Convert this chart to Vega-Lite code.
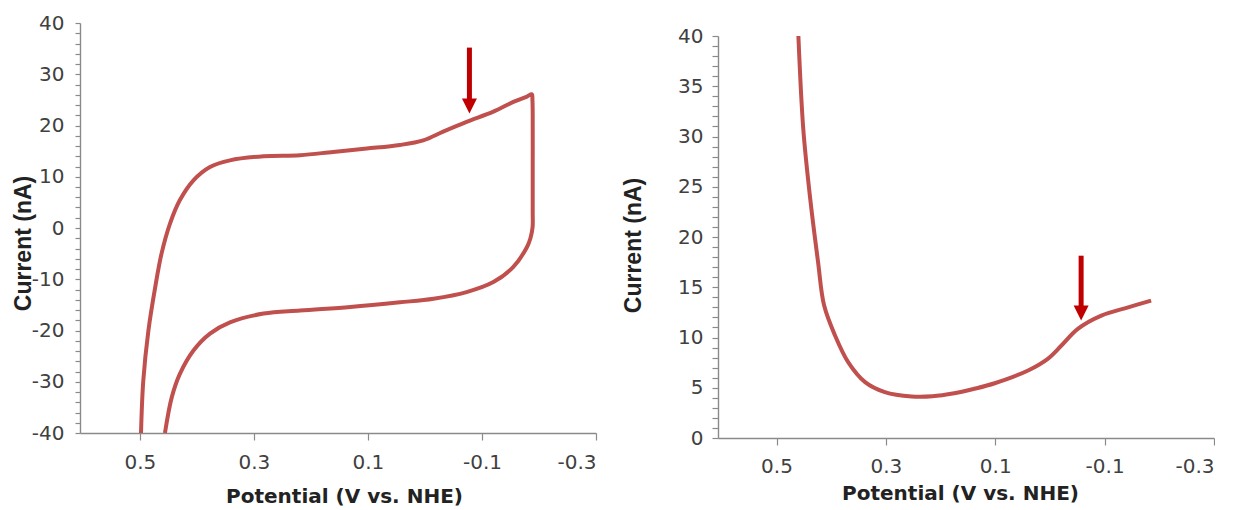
{
  "$schema": "https://vega.github.io/schema/vega-lite/v6.json",
  "padding": {"left": 12, "top": 13, "right": 0, "bottom": 0},
  "spacing": 25,
  "background": "white",
  "config": {
    "view": {"stroke": null},
    "axis": {
      "grid": false,
      "domainColor": "#8a8a8a",
      "domainWidth": 1.4,
      "tickColor": "#8a8a8a",
      "tickWidth": 1.2,
      "labelFont": "DejaVu Sans",
      "labelFontSize": 20,
      "labelColor": "#404040",
      "titleFont": "DejaVu Sans",
      "titleFontWeight": "bold",
      "titleFontSize": 20,
      "titleColor": "#222222"
    }
  },
  "datasets": {
    "cv": [
      {"i": 1, "v": 0.498, "c": -40},
      {"i": 2, "v": 0.494, "c": -29.8},
      {"i": 3, "v": 0.485, "c": -20.0},
      {"i": 4, "v": 0.473, "c": -11.5},
      {"i": 5, "v": 0.462, "c": -5.0},
      {"i": 6, "v": 0.447, "c": 0.9},
      {"i": 7, "v": 0.430, "c": 5.4},
      {"i": 8, "v": 0.406, "c": 9.3},
      {"i": 9, "v": 0.377, "c": 11.9},
      {"i": 10, "v": 0.342, "c": 13.2},
      {"i": 11, "v": 0.283, "c": 14.0},
      {"i": 12, "v": 0.219, "c": 14.2},
      {"i": 13, "v": 0.161, "c": 14.85},
      {"i": 14, "v": 0.102, "c": 15.5},
      {"i": 15, "v": 0.044, "c": 16.2},
      {"i": 16, "v": 0.003, "c": 17.1},
      {"i": 17, "v": -0.032, "c": 18.8},
      {"i": 18, "v": -0.073, "c": 20.7},
      {"i": 19, "v": -0.12, "c": 22.7},
      {"i": 20, "v": -0.155, "c": 24.6},
      {"i": 21, "v": -0.178, "c": 25.6},
      {"i": 22, "v": -0.1875, "c": 26.1},
      {"i": 23, "v": -0.1885, "c": 25.0},
      {"i": 24, "v": -0.189, "c": 22},
      {"i": 25, "v": -0.189, "c": 12},
      {"i": 26, "v": -0.189, "c": 3},
      {"i": 27, "v": -0.1888, "c": 0.2},
      {"i": 28, "v": -0.185, "c": -2.0},
      {"i": 29, "v": -0.179, "c": -3.7},
      {"i": 30, "v": -0.155, "c": -7.6},
      {"i": 31, "v": -0.12, "c": -10.55},
      {"i": 32, "v": -0.073, "c": -12.5},
      {"i": 33, "v": -0.015, "c": -13.8},
      {"i": 34, "v": 0.044, "c": -14.5},
      {"i": 35, "v": 0.131, "c": -15.4},
      {"i": 36, "v": 0.219, "c": -16.1},
      {"i": 37, "v": 0.283, "c": -16.7},
      {"i": 38, "v": 0.342, "c": -18.4},
      {"i": 39, "v": 0.377, "c": -20.6},
      {"i": 40, "v": 0.406, "c": -23.9},
      {"i": 41, "v": 0.430, "c": -28.5},
      {"i": 42, "v": 0.444, "c": -33.0},
      {"i": 43, "v": 0.456, "c": -40}
    ],
    "lsv": [
      {"i": 1, "v": 0.460, "c": 40},
      {"i": 2, "v": 0.451, "c": 30.7},
      {"i": 3, "v": 0.439, "c": 24.1},
      {"i": 4, "v": 0.424, "c": 17.5},
      {"i": 5, "v": 0.413, "c": 13.2},
      {"i": 6, "v": 0.393, "c": 10.2},
      {"i": 7, "v": 0.369, "c": 7.55},
      {"i": 8, "v": 0.338, "c": 5.56},
      {"i": 9, "v": 0.302, "c": 4.57},
      {"i": 10, "v": 0.253, "c": 4.13},
      {"i": 11, "v": 0.215, "c": 4.15},
      {"i": 12, "v": 0.175, "c": 4.45},
      {"i": 13, "v": 0.138, "c": 4.9},
      {"i": 14, "v": 0.101, "c": 5.45},
      {"i": 15, "v": 0.040, "c": 6.72},
      {"i": 16, "v": 0.004, "c": 7.88},
      {"i": 17, "v": -0.021, "c": 9.2},
      {"i": 18, "v": -0.051, "c": 10.86},
      {"i": 19, "v": -0.094, "c": 12.18},
      {"i": 20, "v": -0.143, "c": 13.0},
      {"i": 21, "v": -0.185, "c": 13.67}
    ],
    "shaftL": [{"v": -0.078, "c": 35.2, "c2": 24.6}],
    "headL": [{"v": -0.078, "c": 23.8}],
    "shaftR": [{"v": -0.057, "c": 18.14, "c2": 12.9}],
    "headR": [{"v": -0.057, "c": 12.43}]
  },
  "hconcat": [
    {
      "width": 516,
      "height": 410,
      "encoding": {
        "x": {
          "field": "v", "type": "quantitative",
          "scale": {"domain": [-0.3, 0.605], "reverse": true, "nice": false, "zero": false},
          "axis": {
            "title": "Potential (V vs. NHE)",
            "values": [0.5, 0.3, 0.1, -0.1, -0.3],
            "labelExpr": "(datum.value < 0 ? '-' : '') + format(abs(datum.value), '.1f')",
            "labelOverlap": false,
            "tickSize": 7, "labelPadding": 12,
            "titleX": 264, "titleY": 69, "titleBaseline": "alphabetic"
          }
        },
        "y": {
          "field": "c", "type": "quantitative",
          "scale": {"domain": [-40, 40], "nice": false},
          "axis": {
            "title": "Current (nA)",
            "titleFont": "Liberation Sans",
            "titleFontSize": 23,
            "values": [-40,-38,-36,-34,-32,-30,-28,-26,-24,-22,-20,-18,-16,-14,-12,-10,-8,-6,-4,-2,0,2,4,6,8,10,12,14,16,18,20,22,24,26,28,30,32,34,36,38,40],
            "labelExpr": "datum.value % 10 === 0 ? ((datum.value < 0 ? '-' : '') + abs(datum.value)) : ''",
            "labelOverlap": false,
            "labelFlush": false,
            "tickSize": 5, "labelPadding": 11,
            "titleX": -57, "titleY": 220, "titleBaseline": "middle", "titleAngle": -90
          }
        }
      },
      "layer": [
        {
          "data": {"name": "cv"},
          "mark": {"type": "line", "color": "#C0504D", "strokeWidth": 4, "interpolate": "catmull-rom"},
          "encoding": {
            "order": {"field": "i", "type": "quantitative"}
          }
        },
        {
          "data": {"name": "shaftL"},
          "mark": {"type": "rule", "color": "#C00000", "strokeWidth": 5},
          "encoding": {
            "y2": {"field": "c2"}
          }
        },
        {
          "data": {"name": "headL"},
          "mark": {"type": "point", "shape": "M-1,-1L1,-1L0,1Z", "filled": true, "color": "#C00000", "opacity": 1, "size": 225},
          "encoding": {}
        }
      ]
    },
    {
      "spacing": 0,
      "vconcat": [
        {
          "width": 496,
          "height": 3,
          "data": {"values": []},
          "mark": "point",
          "encoding": {}
        },
        {
          "width": 496,
          "height": 402,
          "encoding": {
            "x": {
              "field": "v", "type": "quantitative",
              "scale": {"domain": [-0.3, 0.607], "reverse": true, "nice": false, "zero": false},
              "axis": {
                "title": "Potential (V vs. NHE)",
                "values": [0.5, 0.3, 0.1, -0.1, -0.3],
                "labelExpr": "(datum.value < 0 ? '-' : '') + format(abs(datum.value), '.1f')",
                "labelOverlap": false,
                "tickSize": 7, "labelPadding": 11,
                "titleX": 242, "titleY": 61, "titleBaseline": "alphabetic"
              }
            },
            "y": {
              "field": "c", "type": "quantitative",
              "scale": {"domain": [0, 40], "nice": false},
              "axis": {
                "title": "Current (nA)",
                "titleFont": "Liberation Sans",
                "titleFontSize": 23,
                "values": [0,1,2,3,4,5,6,7,8,9,10,11,12,13,14,15,16,17,18,19,20,21,22,23,24,25,26,27,28,29,30,31,32,33,34,35,36,37,38,39,40],
                "labelExpr": "datum.value % 5 === 0 ? ('' + datum.value) : ''",
                "labelOverlap": false,
                "labelFlush": false,
                "tickSize": 6, "labelPadding": 9,
                "titleX": -85, "titleY": 209, "titleBaseline": "middle", "titleAngle": -90
              }
            }
          },
          "layer": [
            {
              "data": {"name": "lsv"},
              "mark": {"type": "line", "color": "#C0504D", "strokeWidth": 4, "interpolate": "catmull-rom"},
              "encoding": {
                "order": {"field": "i", "type": "quantitative"}
              }
            },
            {
              "data": {"name": "shaftR"},
              "mark": {"type": "rule", "color": "#C00000", "strokeWidth": 5},
              "encoding": {
                "y2": {"field": "c2"}
              }
            },
            {
              "data": {"name": "headR"},
              "mark": {"type": "point", "shape": "M-1,-1L1,-1L0,1Z", "filled": true, "color": "#C00000", "opacity": 1, "size": 225},
              "encoding": {}
            }
          ]
        }
      ]
    }
  ]
}
